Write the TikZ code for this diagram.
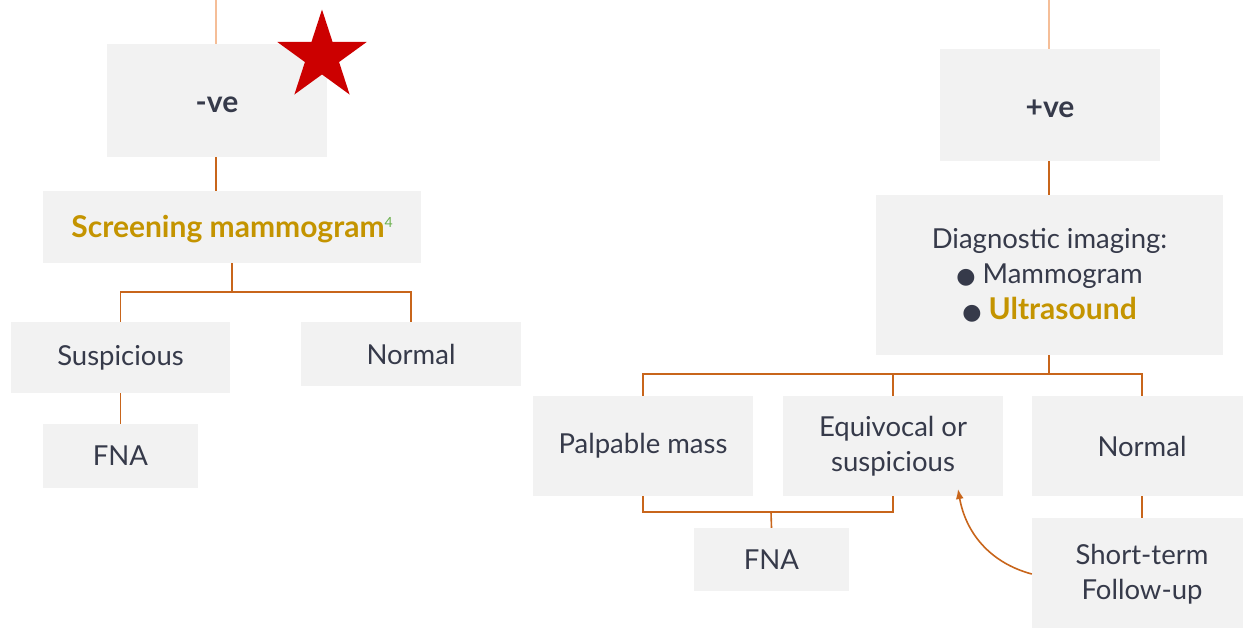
\documentclass[tikz,border=0pt]{standalone}
\usepackage{fontspec}
\setmainfont{Lato}
\newfontfamily\symfont{DejaVu Sans}
\usetikzlibrary{shapes.geometric,arrows.meta}
\definecolor{boxgray}{HTML}{F2F2F2}
\definecolor{textdark}{HTML}{363A4A}
\definecolor{gold}{HTML}{C49400}
\definecolor{supgreen}{HTML}{6AB04C}
\definecolor{conn}{HTML}{C8651B}
\definecolor{connlight}{HTML}{F5BE98}
\definecolor{starred}{HTML}{CC0000}
\tikzset{
  box/.style={fill=boxgray, inner sep=0pt, text=textdark, align=center,
    font=\fontsize{27.5}{35.5}\selectfont},
  link/.style={draw=conn, line width=1.6pt},
  toplink/.style={draw=connlight, line width=1.6pt},
}
\newcommand{\bul}{{\symfont\fontsize{22}{22}\selectfont ●}}
\newcommand{\bigbold}[1]{{\fontsize{30}{35.5}\selectfont\bfseries #1}}
\begin{document}
\begin{tikzpicture}[x=1pt,y=-1pt]
\useasboundingbox (0,0) rectangle (1243,627);
% left branch
\node[box, minimum width=220, minimum height=113] (neg) at (217,100.5) {\raisebox{-4pt}[\height][\depth]{\bigbold{-ve}}};
\node[star, star points=5, star point ratio=2.618, fill=starred, inner sep=0pt, minimum size=94] (star) at (322,56.5) {};
\node[box, minimum width=378, minimum height=72] (screen) at (232,227)
  {\raisebox{-2pt}[\height][\depth]{\bigbold{\color{gold}Screening mammogram}\raisebox{10pt}{\fontsize{14}{14}\selectfont\color{supgreen}4}}};
\node[box, minimum width=219, minimum height=71] (susp) at (120.5,357.5) {Suspicious};
\node[box, minimum width=220, minimum height=64] (normL) at (411,354) {Normal};
\node[box, minimum width=155, minimum height=64] (fnaL) at (120.5,456) {FNA};
% right branch
\node[box, minimum width=220, minimum height=112] (pos) at (1050,105) {\raisebox{-4pt}[\height][\depth]{\bigbold{+ve}}};
\node[box, minimum width=347, minimum height=160] (diag) at (1049.5,275)
  {Diagnostic imaging:\\ \bul\ Mammogram\\ \bul\ \bigbold{\color{gold}Ultrasound}};
\node[box, minimum width=220, minimum height=100] (palp) at (643,446) {Palpable mass};
\node[box, minimum width=220, minimum height=100] (equiv) at (893,446) {Equivocal or\\suspicious};
\node[box, minimum width=220, minimum height=100] (normR) at (1142,446) {Normal};
\node[box, minimum width=220, minimum height=112] (short) at (1142,574) {Short-term\\Follow-up};
\node[box, minimum width=155, minimum height=63] (fnaR) at (771.5,559.5) {FNA};
% coordinates
\coordinate (ltop) at (216,0);
\coordinate (rtop) at (1049,0);
\coordinate (j1) at (232,292);
\coordinate (j2) at (1049,374);
\coordinate (j3) at (771,512);
\coordinate (tip) at (958,489);
% connectors
\draw[toplink] (ltop) -- (neg.north -| ltop);
\draw[toplink] (rtop) -- (pos.north -| rtop);
\draw[link] (neg.south -| ltop) -- (screen.north -| ltop);
\draw[link] (screen.south) -- (j1);
\draw[link] (susp.north) |- (j1) -| (normL.north);
\draw[link] (susp.south) -- (fnaL.north);
\draw[link] (pos.south -| rtop) -- (diag.north -| rtop);
\draw[link] (diag.south -| j2) -- (j2);
\draw[link] (palp.north) |- (j2) -| (normR.north);
\draw[link] (equiv.north) -- (equiv.north |- j2);
\draw[link] (palp.south) |- (j3) -| (equiv.south);
\draw[link] (j3) -- (fnaR.north);
\draw[link] (normR.south) -- (short.north);
\draw[link, -{Latex[length=10pt,width=8pt]}] (short.west) to[out=165,in=-80] (tip);
\end{tikzpicture}
\end{document}
